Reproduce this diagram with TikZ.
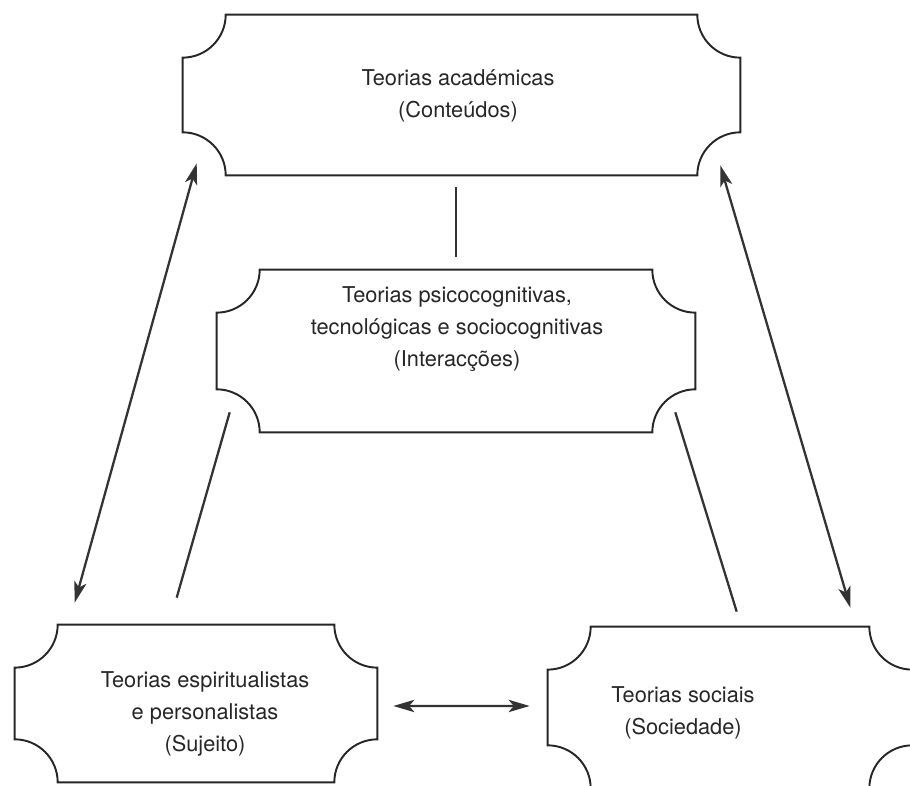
\documentclass[tikz,border=0pt]{standalone}
\usepackage{fontspec}
\setmainfont{TeX Gyre Heros}
\usetikzlibrary{arrows.meta}

\def\rad{0.86cm}
% concave corners round a node
\newcommand{\notchframe}[1]{%
  \draw[frame] ([xshift=\rad]#1.north west) arc[start angle=0,end angle=-90,radius=\rad]
    -- ([yshift=\rad]#1.south west) arc[start angle=90,end angle=0,radius=\rad]
    -- ([xshift=-\rad]#1.south east) arc[start angle=180,end angle=90,radius=\rad]
    -- ([yshift=-\rad]#1.north east) arc[start angle=270,end angle=180,radius=\rad]
    -- cycle;}

\tikzset{
  frame/.style={line width=1.1pt, draw=black!85},
  boxarea/.style={inner sep=0pt, minimum width=#1},
  theory/.style={align=center, font=\fontsize{12.4}{18}\selectfont, text=black!85},
  link/.style={line width=1.3pt, draw=black!80},
  duplo/.style={link, {Stealth[length=12pt,width=7pt,inset=3pt]}-{Stealth[length=12pt,width=7pt,inset=3pt]}}
}

\begin{document}
\begin{tikzpicture}[x=0.02cm, y=0.02cm]
    \useasboundingbox (0,0) rectangle (910,786);
    \clip (0,0) rectangle (910,786);
    % boxes
    \node[boxarea=11.14cm, minimum height=3.2cm] (acad) at (461.5,691) {};
    \node[boxarea=9.56cm, minimum height=3.24cm] (inter) at (456,435) {};
    \node[boxarea=7.24cm, minimum height=3.14cm] (esp) at (196,82.5) {};
    \node[boxarea=7.28cm, minimum height=3.22cm] (soc) at (730,78.5) {};
    \notchframe{acad}
    \notchframe{inter}
    \notchframe{esp}
    \notchframe{soc}
    % texts
    \node[theory] (acadtxt) at (458,690) {Teorias académicas\\(Conteúdos)};
    \node[theory] (intertxt) at (457,457) {Teorias psicocognitivas,\\tecnológicas e sociocognitivas\\(Interacções)};
    \node[theory] (esptxt) at (205,72) {Teorias espiritualistas\\e personalistas\\(Sujeito)};
    \node[theory] (soctxt) at (683,73) {Teorias sociais\\(Sociedade)};
    % connectors
    \draw[link, shorten <=0.25cm, shorten >=0.24cm] (inter.north) -- (inter.north |- acad.south);
    \draw[duplo] ([shift={(60,22)}]esp.north west) -- ([shift={(14,12)}]acad.south west);
    \draw[duplo] ([shift={(-62,19)}]soc.north east) -- ([shift={(-20,10)}]acad.south east);
    \draw[link] ([shift={(13,20)}]inter.south west) -- ([shift={(162,27)}]esp.north west);
    \draw[link] ([shift={(-20,20)}]inter.south east) -- ([shift={(189,15)}]soc.north west);
    \draw[duplo] ([shift={(16,-2.5)}]esp.east) -- ([shift={(-18,1.5)}]soc.west);
\end{tikzpicture}
\end{document}
